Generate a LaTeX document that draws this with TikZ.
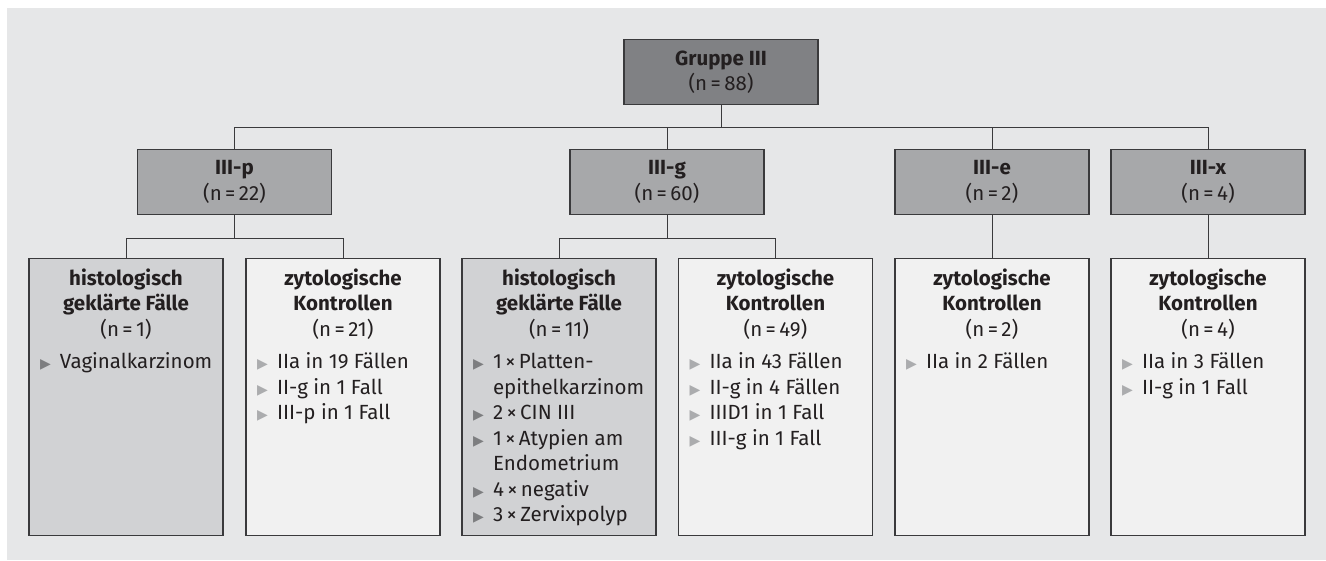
\documentclass[tikz,border=0pt]{standalone}
\usepackage{fontspec}
\setmainfont{Fira Sans}
\newfontfamily\symbole{DejaVu Sans}
\usetikzlibrary{positioning}

\definecolor{hgrund}{HTML}{E6E7E8}
\definecolor{dunkel}{HTML}{808184}
\definecolor{mittel}{HTML}{A7A8AA}
\definecolor{hell}{HTML}{D1D2D4}
\definecolor{weiss}{HTML}{F1F1F1}
\definecolor{rahmen}{HTML}{3A3A3C}
\definecolor{schrift}{HTML}{231F20}
\definecolor{pfeilA}{HTML}{7D7E80}
\definecolor{pfeilB}{HTML}{ABACAE}

\newcommand\pu{\par\noindent\hangindent=31pt\hangafter=1%
  \makebox[31pt][l]{\hspace{11pt}\textcolor{pf}{\symbole\fontsize{14}{14}\selectfont ▶}}}
\newcommand\inhalt[4]{\parbox[c][277pt][t]{194pt}{\parskip=0pt\colorlet{pf}{#1}%
  \vspace*{10pt}{\centering\bfseries#2\par}{\centering(n\,=\,#3)\par}%
  \vspace{7pt}\raggedright#4\par}}

\tikzset{gruppe/.style={draw=rahmen,line width=1.2pt,minimum width=194pt,
    minimum height=65pt,inner sep=0pt,anchor=north,align=center,text=schrift},
  kasten/.style={draw=rahmen,line width=1.2pt,inner sep=0pt,anchor=north,text=schrift},
  linie/.style={draw=rahmen,line width=0.9pt}}

\begin{document}
\begin{tikzpicture}[x=1pt,y=-1pt,font=\fontsize{20.5}{25.5}\selectfont]

\useasboundingbox (0,0) rectangle (1326,560);
\fill[hgrund] (7,8) rectangle (1326,560);

% obere Ebene
\node[gruppe,fill=dunkel] (gruppe) at (721,39) {\textbf{Gruppe III}\\(n\,=\,88)};

\node[gruppe,fill=mittel] (p) at (234.5,149) {\textbf{III-p}\\(n\,=\,22)};
\node[gruppe,fill=mittel] (g) at (667,149) {\textbf{III-g}\\(n\,=\,60)};
\node[gruppe,fill=mittel] (e) at (992,149) {\textbf{III-e}\\(n\,=\,2)};
\node[gruppe,fill=mittel] (x) at (1208,149) {\textbf{III-x}\\(n\,=\,4)};

% untere Ebene
\node[kasten,fill=hell] (p1) at (126,258) {\inhalt{pfeilA}{histologisch\\geklärte Fälle}{1}{%
  \pu Vaginalkarzinom}};
\node[kasten,fill=weiss] (p2) at (343,258) {\inhalt{pfeilB}{zytologische\\Kontrollen}{21}{%
  \pu IIa in 19 Fällen
  \pu II-g in 1 Fall
  \pu III-p in 1 Fall}};
\node[kasten,fill=hell] (g1) at (559,258) {\inhalt{pfeilA}{histologisch\\geklärte Fälle}{11}{%
  \pu 1\,×\,Platten-\newline epithelkarzinom
  \pu 2\,×\,CIN III
  \pu 1\,×\,Atypien am\newline Endometrium
  \pu 4\,×\,negativ
  \pu 3\,×\,Zervixpolyp}};
\node[kasten,fill=weiss] (g2) at (775.5,258) {\inhalt{pfeilB}{zytologische\\Kontrollen}{49}{%
  \pu IIa in 43 Fällen
  \pu II-g in 4 Fällen
  \pu IIID1 in 1 Fall
  \pu III-g in 1 Fall}};
\node[kasten,fill=weiss] (e1) at (992,258) {\inhalt{pfeilB}{zytologische\\Kontrollen}{2}{%
  \pu IIa in 2 Fällen}};
\node[kasten,fill=weiss] (x1) at (1208,258) {\inhalt{pfeilB}{zytologische\\Kontrollen}{4}{%
  \pu IIa in 3 Fällen
  \pu II-g in 1 Fall}};

% Verbindungen
\draw[linie] (gruppe.south) -- ++(0,22) coordinate (gm);
\draw[linie] (p.north |- gm) -- (x.north |- gm);
\foreach \k in {p,g,e,x}
  \draw[linie] (\k.north) -- (\k.north |- gm);

\draw[linie] (p.south) -- ++(0,23) coordinate (pm);
\draw[linie] (p1.north) |- (pm) -| (p2.north);
\draw[linie] (g.south) -- ++(0,23) coordinate (gm2);
\draw[linie] (g1.north) |- (gm2) -| (g2.north);
\draw[linie] (e.south) -- (e1.north);
\draw[linie] (x.south) -- (x1.north);

\end{tikzpicture}
\end{document}
